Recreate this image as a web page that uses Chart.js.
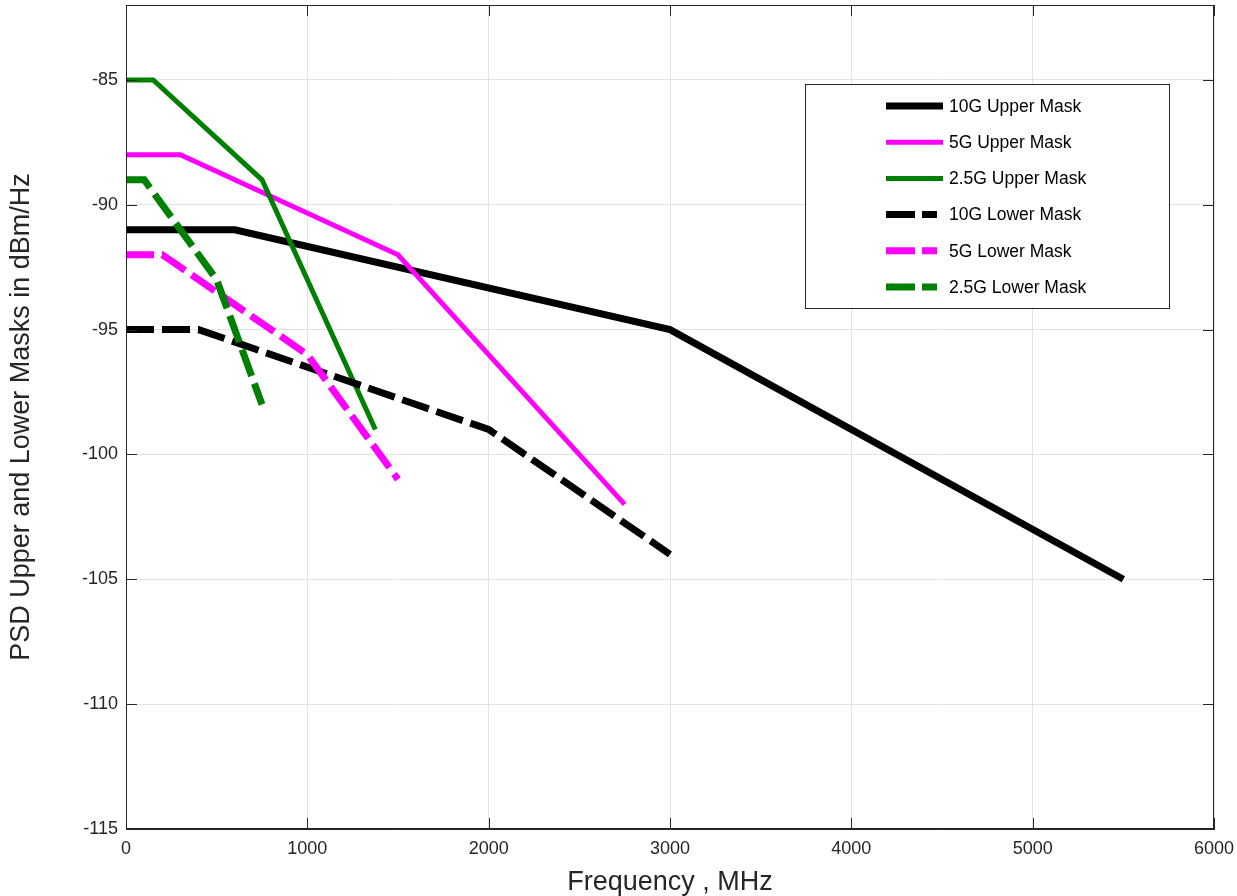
<!DOCTYPE html>
<html>
<head>
<meta charset="utf-8">
<script src="https://cdn.jsdelivr.net/npm/chart.js@4.4.1/dist/chart.umd.min.js"></script>
<style>
  html, body { margin: 0; padding: 0; background: #ffffff; }
  #wrap { width: 1237px; height: 896px; }
</style>
</head>
<body>
<div id="wrap"><canvas id="c" width="1237" height="896"></canvas></div>
<script>
// Tick values for both axes
const freqTicks = [0, 1000, 2000, 3000, 4000, 5000, 6000];
const psdTicks = [-115, -110, -105, -100, -95, -90, -85];

// PSD mask corner points (frequency in MHz, level in dBm/Hz)
const up10Freq = [0, 600, 3000, 5500];
const up10Psd = [-91, -91, -95, -105];
const up5Freq = [0, 300, 1500, 2750];
const up5Psd = [-88, -88, -92, -102];
const up25Freq = [0, 150, 750, 1375];
const up25Psd = [-85, -85, -89, -99];
const low10Freq = [0, 400, 2000, 3000];
const low10Psd = [-95, -95, -99, -104];
const low5Freq = [0, 200, 1000, 1500];
const low5Psd = [-92, -92, -96, -101];
const low25Freq = [0, 100, 500, 750];
const low25Psd = [-89, -89, -93, -98];

const seriesNames = ['10G Upper Mask', '5G Upper Mask', '2.5G Upper Mask',
                     '10G Lower Mask', '5G Lower Mask', '2.5G Lower Mask'];

const FONT = '"Liberation Sans", Arial, Helvetica, sans-serif';
const INK = '#262626';

function pts(xs, ys) { return xs.map((x, i) => ({ x: x, y: ys[i] })); }

const seriesDefs = [
  { f: up10Freq, p: up10Psd, color: '#000000', width: 7, dash: [] },
  { f: up5Freq, p: up5Psd, color: '#ff00ff', width: 5, dash: [] },
  { f: up25Freq, p: up25Psd, color: '#008000', width: 5, dash: [] },
  { f: low10Freq, p: low10Psd, color: '#000000', width: 7, dash: [28, 8] },
  { f: low5Freq, p: low5Psd, color: '#ff00ff', width: 7, dash: [28, 8] },
  { f: low25Freq, p: low25Psd, color: '#008000', width: 7, dash: [28, 8] }
];

const datasets = seriesDefs.map((s, i) => ({
  label: seriesNames[i],
  data: pts(s.f, s.p),
  borderColor: s.color,
  backgroundColor: s.color,
  borderWidth: s.width,
  borderDash: s.dash,
  borderCapStyle: 'butt',
  borderJoinStyle: 'miter',
  pointRadius: 0,
  fill: false,
  tension: 0,
  order: seriesDefs.length - i
}));

// Box frame, inward tick marks and the boxed legend
const frameAndLegend = {
  id: 'frameAndLegend',
  afterDatasetsDraw(chart) {
    const { ctx, chartArea: a, scales } = chart;
    ctx.save();
    ctx.strokeStyle = INK;
    ctx.lineWidth = 1;
    const tl = 11;
    ctx.beginPath();
    scales.x.ticks.forEach(t => {
      const px = Math.round(scales.x.getPixelForValue(t.value)) + 0.5;
      ctx.moveTo(px, a.bottom); ctx.lineTo(px, a.bottom - tl);
      ctx.moveTo(px, a.top); ctx.lineTo(px, a.top + tl);
    });
    scales.y.ticks.forEach(t => {
      const py = Math.round(scales.y.getPixelForValue(t.value)) + 0.5;
      ctx.moveTo(a.left, py); ctx.lineTo(a.left + tl, py);
      ctx.moveTo(a.right, py); ctx.lineTo(a.right - tl, py);
    });
    ctx.stroke();
    ctx.strokeRect(Math.round(a.left) + 0.5, Math.round(a.top) + 0.5,
                   Math.round(a.right - a.left) - 1, Math.round(a.bottom - a.top) - 1);

    // legend
    const bx = 805, by = 84, bw = 364, bh = 224;
    ctx.fillStyle = '#ffffff';
    ctx.fillRect(bx, by, bw, bh);
    ctx.strokeStyle = INK;
    ctx.lineWidth = 1;
    ctx.strokeRect(bx + 0.5, by + 0.5, bw, bh);
    ctx.font = '17.5px ' + FONT;
    ctx.textBaseline = 'middle';
    ctx.textAlign = 'left';
    chart.data.datasets.forEach((ds, i) => {
      const y = 106 + i * 36.2;
      ctx.save();
      ctx.strokeStyle = ds.borderColor;
      ctx.lineWidth = ds.borderWidth;
      ctx.lineCap = 'butt';
      const dashed = ds.borderDash && ds.borderDash.length;
      ctx.setLineDash(dashed ? [29, 7] : []);
      ctx.beginPath();
      ctx.moveTo(886, y);
      ctx.lineTo(dashed ? 937 : 943, y);
      ctx.stroke();
      ctx.restore();
      ctx.fillStyle = '#000000';
      ctx.fillText(ds.label, 949, y + 1);
    });
    ctx.restore();
  }
};

function noEdgePadding(s) {
  s.paddingTop = 0; s.paddingBottom = 0; s.paddingLeft = 0; s.paddingRight = 0;
}

new Chart(document.getElementById('c'), {
  type: 'line',
  data: { datasets: datasets },
  options: {
    responsive: false,
    animation: false,
    devicePixelRatio: 1,
    layout: { padding: { top: 5, right: 23, left: 0, bottom: 0 } },
    plugins: { legend: { display: false }, tooltip: { enabled: false } },
    scales: {
      x: {
        type: 'linear',
        min: 0,
        max: 6000,
        afterBuildTicks: s => { s.ticks = freqTicks.map(v => ({ value: v })); },
        afterFit: s => { s.height = 67; noEdgePadding(s); },
        grid: { color: '#e3e3e3', lineWidth: 1, drawTicks: false },
        border: { color: INK, width: 1 },
        ticks: { font: { family: FONT, size: 18 }, color: INK, padding: 9, maxRotation: 0,
                 callback: v => String(v) },
        title: { display: true, text: 'Frequency , MHz', color: INK,
                 font: { family: FONT, size: 27, lineHeight: 1 }, padding: 0 }
      },
      y: {
        type: 'linear',
        min: -115,
        max: -82,
        afterBuildTicks: s => { s.ticks = psdTicks.map(v => ({ value: v })); },
        afterFit: s => { s.width = 126; noEdgePadding(s); },
        grid: { color: '#e3e3e3', lineWidth: 1, drawTicks: false },
        border: { color: INK, width: 1 },
        ticks: { font: { family: FONT, size: 18 }, color: INK, padding: 8,
                 callback: v => String(v) },
        title: { display: true, text: 'PSD Upper and Lower Masks in dBm/Hz', color: INK,
                 font: { family: FONT, size: 27, lineHeight: 1 }, padding: { top: 8 } }
      }
    }
  },
  plugins: [frameAndLegend]
});
</script>
</body>
</html>
